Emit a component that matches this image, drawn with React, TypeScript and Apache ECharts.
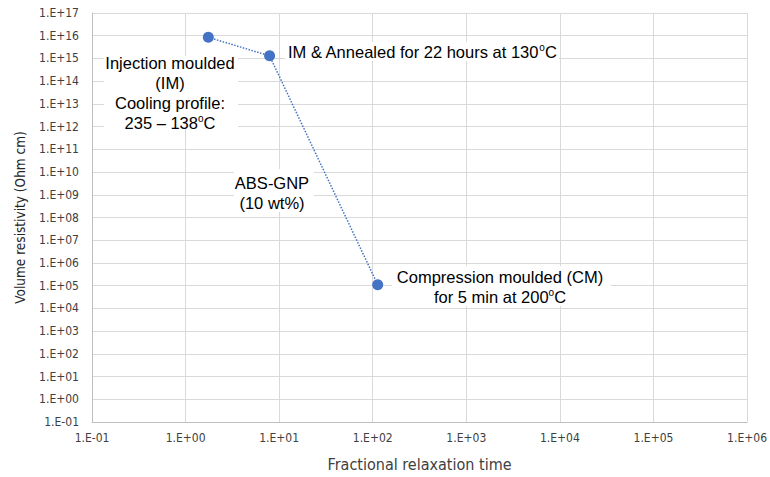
import React, { useEffect, useRef } from "react";
import * as echarts from "echarts";

const relaxationTime = [1.75, 7.9, 113];
const resistivity = [8.5e15, 1.3e15, 1.1e5];
const xTickRange = [0.1, 1e6];
const yTickRange = [0.1, 1e17];

const xTitle = "Fractional relaxation time";
const yTitle = "Volume resistivity (Ohm cm)";

const fmt = (v: number) => {
  const e = Math.round(Math.log10(v));
  const s = e < 0 ? "-" : "+";
  const a = Math.abs(e);
  return "1.E" + s + (a < 10 ? "0" + a : String(a));
};

const annFont = "Liberation Sans, Arial, sans-serif";
const tickFont = "'Liberation Sans Narrow', 'DejaVu Sans Condensed', 'Open Sans', sans-serif";

export default function App() {
  const ref = useRef<HTMLDivElement>(null);
  useEffect(() => {
    if (!ref.current) return;
    const chart = echarts.init(ref.current, undefined, { renderer: "svg" });
    const rich = {
      t: { fontSize: 16.5, fontFamily: annFont, color: "#000", lineHeight: 20 },
      sup: { fontSize: 10, fontFamily: annFont, color: "#000", verticalAlign: "top", lineHeight: 20, padding: [0, 0, 8, 0] },
    };
    const annStyle = (extra: any) => ({
      fontSize: 16.5,
      fontFamily: annFont,
      fill: "#000",
      lineHeight: 20,
      rich,
      ...extra,
    });
    const box = (x: number, y: number, w: number, h: number) => ({
      type: "rect",
      z: 1,
      silent: true,
      shape: { x, y, width: w, height: h },
      style: { fill: "#fff" },
    });
    chart.setOption({
      animation: false,
      backgroundColor: "#fff",
      grid: { left: 92, right: 18, top: 13, bottom: 54, containLabel: false },
      xAxis: {
        type: "log",
        logBase: 10,
        min: xTickRange[0],
        max: xTickRange[1],
        interval: 1,
        name: xTitle,
        nameLocation: "middle",
        nameGap: 34,
        nameTextStyle: { fontSize: 16, color: "#404040", fontFamily: tickFont },
        axisLine: { show: true, lineStyle: { color: "#bfbfbf", width: 1 } },
        axisTick: { show: false },
        axisLabel: { formatter: fmt, fontSize: 12, color: "#404040", fontFamily: tickFont, margin: 10 },
        splitLine: { show: true, lineStyle: { color: "#d9d9d9", width: 1 } },
      },
      yAxis: {
        type: "log",
        logBase: 10,
        min: yTickRange[0],
        max: yTickRange[1],
        interval: 1,
        name: yTitle,
        nameLocation: "middle",
        nameGap: 65,
        nameTextStyle: { fontSize: 13.5, color: "#262626", fontFamily: tickFont },
        axisLine: { show: true, lineStyle: { color: "#bfbfbf", width: 1 } },
        axisTick: { show: false },
        axisLabel: { formatter: fmt, fontSize: 12, color: "#404040", fontFamily: tickFont, margin: 13 },
        splitLine: { show: true, lineStyle: { color: "#d9d9d9", width: 1 } },
      },
      series: [
        {
          type: "line",
          z: 5,
          data: relaxationTime.map((x, i) => [x, resistivity[i]]),
          symbol: "circle",
          symbolSize: 11,
          itemStyle: { color: "#4472C4" },
          lineStyle: { color: "#4472C4", width: 1.5, type: [1.5, 1.5] },
        },
      ],
      graphic: [
        box(104, 56, 134, 71),
        box(285, 42, 274, 19),
        box(234, 169, 80, 43),
        box(392, 266, 219, 40),
        {
          type: "text",
          z: 3,
          x: 170,
          y: 53,
          style: annStyle({
            text: "{t|Injection moulded}\n{t|(IM)}\n{t|Cooling profile:}\n{t|235 – 138}{sup|o}{t|C}",
            align: "center",
          }),
        },
        {
          type: "text",
          z: 3,
          x: 288,
          y: 42,
          style: annStyle({ text: "{t|IM & Annealed for 22 hours at 130}{sup|o}{t|C}" }),
        },
        {
          type: "text",
          z: 3,
          x: 272,
          y: 173,
          style: annStyle({ text: "{t|ABS-GNP}\n{t|(10 wt%)}", align: "center" }),
        },
        {
          type: "text",
          z: 3,
          x: 500,
          y: 267,
          style: annStyle({ text: "{t|Compression moulded (CM)}\n{t|for 5 min at 200}{sup|o}{t|C}", align: "center" }),
        },
      ],
    });
    return () => chart.dispose();
  }, []);
  return (
    <div
      ref={ref}
      style={{ position: "absolute", left: 0, top: 0, width: 770, height: 477 }}
    />
  );
}
